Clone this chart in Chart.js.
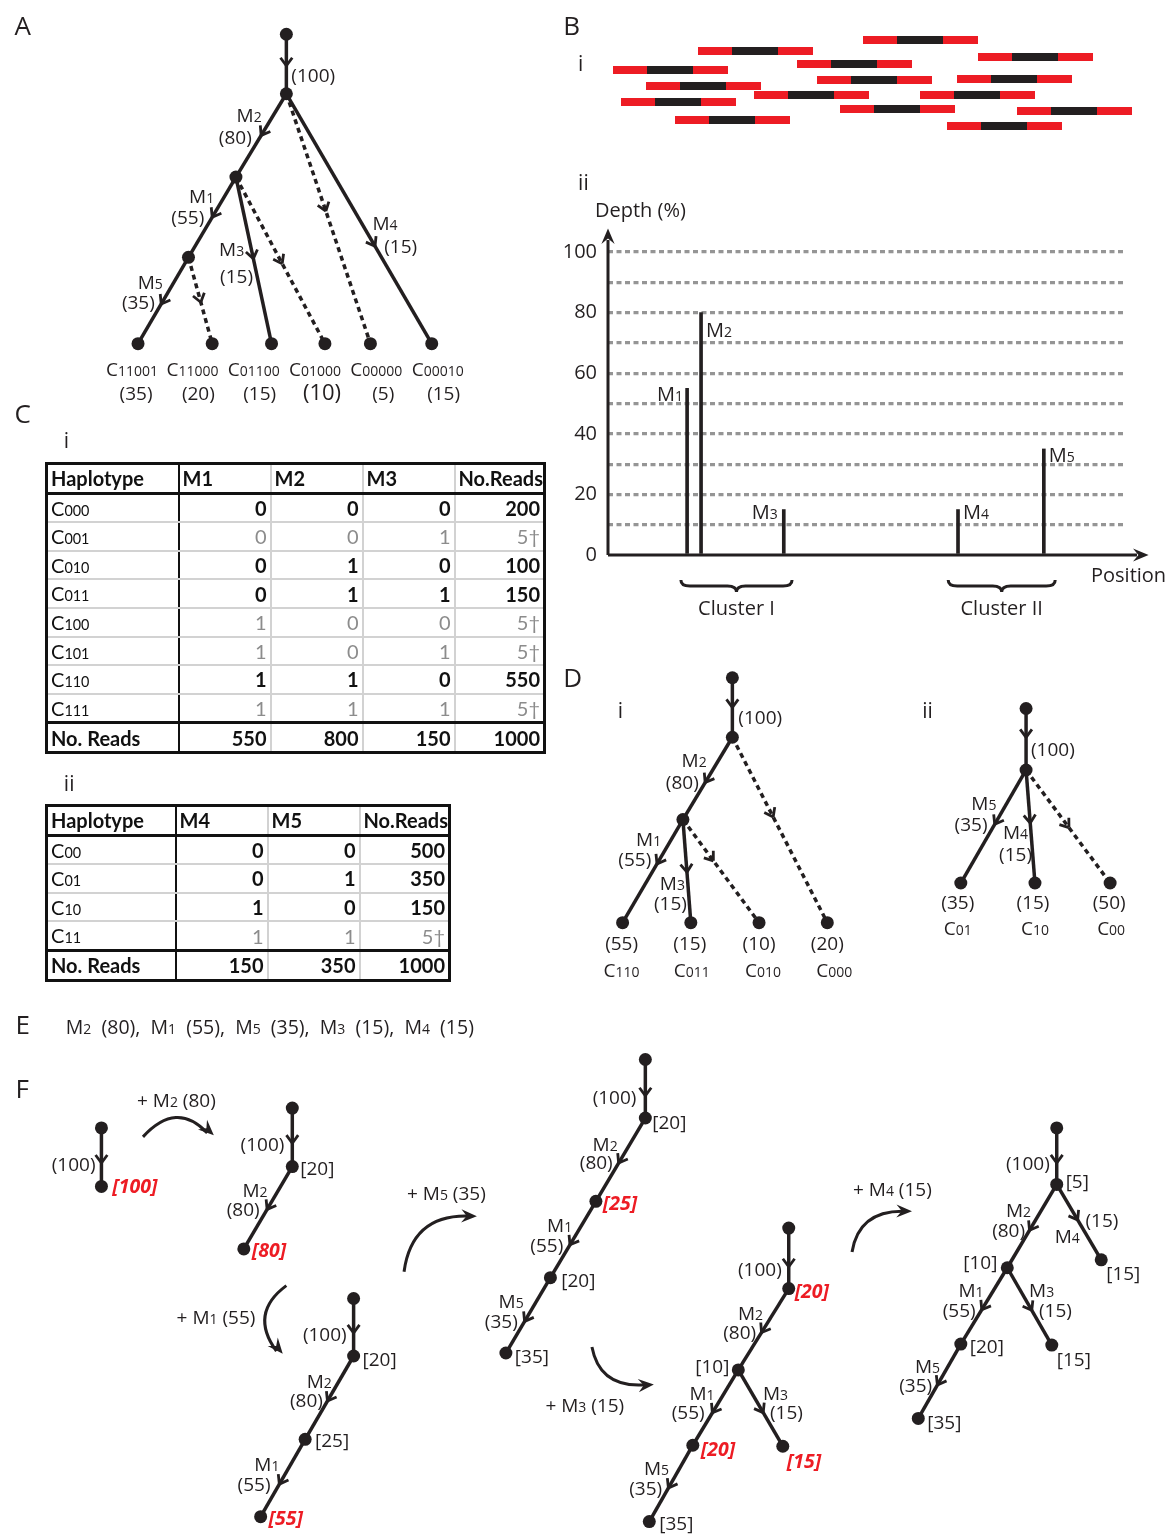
<!DOCTYPE html>
<html>
<head>
<meta charset="utf-8">
<script src="https://cdn.jsdelivr.net/npm/chart.js@4.4.1/dist/chart.umd.min.js"></script>
<style>
  html, body { margin: 0; padding: 0; background: #fff; }
  #page { position: relative; width: 1173px; height: 1538px; overflow: hidden; }
  #page canvas { position: absolute; }
  .tbl { position: absolute; border-collapse: collapse; table-layout: fixed;
         font-family: Lato, "Liberation Sans", sans-serif; font-size: 20px; color: #111;
         border: 3px solid #111; }
  .tbl td { border: 2px solid #d2d2d2; padding: 0 3px 0 3px; height: 26.6px; line-height: 1;
            white-space: nowrap; overflow: hidden; text-align: right; font-weight: bold; }
  .tbl td:first-child { text-align: left; font-weight: normal; border-right: 2px solid #111; }
  .tbl td:last-child { border-left: 2px solid #111; }
  .tbl tr.head td { font-weight: bold; text-align: left; border-bottom: 3px solid #111; }
  .tbl tr.total td { font-weight: bold; border-top: 3px solid #111; }
  .tbl tr.rare td { color: #8c8c8c; font-weight: normal; }
  .tbl tr.rare td:first-child { color: #111; }
  .tbl .s { font-size: 72%; }
</style>
</head>
<body>
<div id="page">
  <canvas id="trees" width="1173" height="1538" style="left:0;top:0"></canvas>
  <canvas id="reads" width="530" height="105" style="left:608px;top:30px"></canvas>
  <canvas id="depth" width="613" height="440" style="left:560px;top:190px"></canvas>
  <table id="tab1" class="tbl" style="left:45px;top:462px;width:498px"></table>
  <table id="tab2" class="tbl" style="left:45px;top:804px;width:403px"></table>
</div>
<script>
// ---------- data ----------
// B i: short reads (start position, lane)
const readStart = [250, 85, 365, 184, 0, 204, 344, 33, 141, 307, 8, 227, 404, 62, 334];
const readLane  = [0, 11, 17, 24, 30, 40, 39, 46, 55, 55, 62, 69, 71, 80, 86];
const readLength = 115;
const readCore = [34, 80];

// B ii: mutations, position and depth (%)
const mutations   = ['M1', 'M2', 'M3', 'M4', 'M5'];
const mutPosition = [153, 180, 340, 677, 843];
const mutDepth    = [55, 80, 15, 15, 35];
const depthGrid   = [0, 10, 20, 30, 40, 50, 60, 70, 80, 90, 100];
const clusterNames = ['Cluster I', 'Cluster II'];
const clusterFrom  = [141, 658];
const clusterTo    = [356, 865];

// C i / C ii tables
const headI   = ['Haplotype', 'M1', 'M2', 'M3', 'No.Reads'];
const hapI    = ['000', '001', '010', '011', '100', '101', '110', '111'];
const readsI  = [200, 5, 100, 150, 5, 5, 550, 5];
const rareI   = [false, true, false, false, true, true, false, true];
const totalsI = [550, 800, 150, 1000];
const headII   = ['Haplotype', 'M4', 'M5', 'No.Reads'];
const hapII    = ['00', '01', '10', '11'];
const readsII  = [500, 350, 150, 5];
const rareII   = [false, false, false, true];
const totalsII = [150, 350, 1000];

// trees: nodes, edges [from, to, dashed, arrow position], labels [text, x, y, align, style]
const treeA = {
  nodes: { r: [283, 28], a: [283, 88], b: [232, 172], c: [184, 253],
           l1: [133, 340], l2: [208, 340], l3: [268, 340], l4: [322, 340], l5: [368, 340], l6: [430, 340] },
  edges: [['r','a',0,.53], ['a','b',0,.5], ['a','l5',1,.47], ['a','l6',0,.61], ['b','c',0,.5],
          ['b','l3',0,.49], ['b','l4',1,.52], ['c','l1',0,.54], ['c','l2',1,.52]],
  labels: [['(100)',288,69,'l'], ['M_2',258,110,'r'], ['(80)',248,132,'r'], ['M_1',210,191,'r'],
           ['(55)',200,212,'r'], ['M_4',370,219,'l'], ['(15)',382,242,'l'], ['M_3',215,245,'l'],
           ['(15)',216,272,'l'], ['M_5',158,278,'r'], ['(35)',150,298,'r'],
           ['C_11001',127,366,'c'], ['(35)',131,390,'c'], ['C_11000',188,366,'c'], ['(20)',194,390,'c'],
           ['C_01100',250,366,'c'], ['(15)',256,390,'c'], ['C_01000',312,366,'c'], ['(10)',319,389,'c',22],
           ['C_00000',374,366,'c'], ['(5)',381,390,'c'], ['C_00010',436,366,'c'], ['(15)',442,390,'c']]
};
const treeDi = {
  nodes: { r: [734, 677], a: [734, 737], b: [684, 820], l1: [623, 924], l2: [692, 924], l3: [761, 924], l4: [830, 924] },
  edges: [['r','a',0,.5], ['a','b',0,.55], ['a','l4',1,.43], ['b','l1',0,.43], ['b','l2',0,.51], ['b','l3',1,.4]],
  labels: [['(100)',740,717,'l'], ['M_2',708,760,'r'], ['(80)',700,782,'r'], ['M_1',662,840,'r'],
           ['(55)',652,860,'r'], ['M_3',686,884,'r'], ['(15)',688,904,'r'],
           ['(55)',622,945,'c'], ['C_110',622,972,'c'], ['(15)',691,945,'c'], ['C_011',693,972,'c'],
           ['(10)',761,945,'c'], ['C_010',765,972,'c'], ['(20)',830,945,'c'], ['C_000',837,972,'c']]
};
const treeDii = {
  nodes: { r: [1031, 708], a: [1031, 770], l1: [965, 884], l2: [1040, 884], l3: [1116, 884] },
  edges: [['r','a',0,.47], ['a','l1',0,.48], ['a','l2',0,.47], ['a','l3',1,.51]],
  labels: [['(100)',1036,749,'l'], ['M_5',1001,803,'r'], ['(35)',992,825,'r'], ['M_4',1033,833,'r'],
           ['(15)',1037,855,'r'], ['(35)',962,903,'c'], ['C_01',962,930,'c'], ['(15)',1038,903,'c'],
           ['C_10',1040,930,'c'], ['(50)',1115,903,'c'], ['C_00',1117,930,'c']]
};
const treeF1 = {
  nodes: { r: [96, 1131], a: [96, 1190] },
  edges: [['r','a',0,.6]],
  labels: [['(100)',90,1168,'r'], ['[100]',107,1190,'l','red']]
};
const treeF2 = {
  nodes: { r: [289, 1111], a: [289, 1170], b: [240, 1253] },
  edges: [['r','a',0,.6], ['a','b',0,.52]],
  labels: [['(100)',281,1147,'r'], ['[20]',297,1172,'l'], ['M_2',264,1194,'r'], ['(80)',256,1213,'r'],
           ['[80]',248,1254,'l','red']]
};
const treeF3 = {
  nodes: { r: [351, 1303], a: [351, 1361], b: [302, 1445], c: [257, 1523] },
  edges: [['r','a',0,.6], ['a','b',0,.54], ['b','c',0,.58]],
  labels: [['(100)',344,1339,'r'], ['[20]',360,1364,'l'], ['M_2',329,1386,'r'], ['(80)',320,1406,'r'],
           ['[25]',312,1446,'l'], ['M_1',276,1470,'r'], ['(55)',267,1490,'r'], ['[55]',265,1524,'l','red']]
};
const treeF4 = {
  nodes: { r: [646, 1062], a: [646, 1121], b: [596, 1205], c: [550, 1282], d: [505, 1358] },
  edges: [['r','a',0,.62], ['a','b',0,.54], ['b','c',0,.57], ['c','d',0,.58]],
  labels: [['(100)',637,1100,'r'], ['[20]',653,1125,'l'], ['M_2',618,1147,'r'], ['(80)',613,1166,'r'],
           ['[25]',603,1207,'l','red'], ['M_1',572,1229,'r'], ['(55)',563,1249,'r'], ['[20]',561,1285,'l'],
           ['M_5',523,1306,'r'], ['(35)',517,1326,'r'], ['[35]',514,1361,'l']]
};
const treeF5 = {
  nodes: { r: [791, 1232], a: [791, 1293], b: [740, 1375], c: [694, 1451], d: [650, 1528], e: [785, 1452] },
  edges: [['r','a',0,.64], ['a','b',0,.54], ['b','c',0,.57], ['c','d',0,.56], ['b','e',0,.56]],
  labels: [['(100)',784,1273,'r'], ['[20]',797,1295,'l','red'], ['M_2',765,1318,'r'], ['(80)',758,1337,'r'],
           ['[10]',731,1371,'r'], ['M_1',716,1398,'r'], ['(55)',706,1418,'r'], ['M_3',765,1398,'l'],
           ['(15)',772,1418,'l'], ['[20]',702,1455,'l','red'], ['[15]',789,1467,'l','red'],
           ['M_5',670,1474,'r'], ['(35)',663,1494,'r'], ['[35]',660,1530,'l']]
};
const treeF6 = {
  nodes: { r: [1062, 1131], a: [1062, 1188], b: [1012, 1272], c: [965, 1349], d: [922, 1424],
           e: [1057, 1350], f: [1107, 1264] },
  edges: [['r','a',0,.62], ['a','b',0,.55], ['a','f',0,.47], ['b','c',0,.55], ['b','e',0,.55], ['c','d',0,.55]],
  labels: [['(100)',1055,1167,'r'], ['[5]',1071,1185,'l'], ['M_2',1036,1214,'r'], ['(80)',1030,1234,'r'],
           ['(15)',1091,1224,'l'], ['M_4',1060,1240,'l'], ['[15]',1112,1277,'l'], ['[10]',1002,1266,'r'],
           ['M_1',988,1295,'r'], ['(55)',980,1315,'r'], ['M_3',1034,1295,'l'], ['(15)',1044,1315,'l'],
           ['[20]',974,1351,'l'], ['[15]',1062,1364,'l'], ['M_5',944,1371,'r'], ['(35)',936,1390,'r'],
           ['[35]',931,1428,'l']]
};
const trees = [treeA, treeDi, treeDii, treeF1, treeF2, treeF3, treeF4, treeF5, treeF6];

// F: steps between trees [label, label x, label y, curve x0,y0, ctrl x,y, x1,y1]
const steps = [
  ['+ M_2 (80)', 132, 1103, 138, 1140, 172, 1103, 207, 1136],
  ['+ M_1 (55)', 172, 1322, 283, 1290, 245, 1318, 277, 1356],
  ['+ M_5 (35)', 405, 1197, 402, 1276, 410, 1218, 472, 1220],
  ['+ M_3 (15)', 545, 1411, 592, 1352, 600, 1394, 651, 1390],
  ['+ M_4 (15)', 856, 1193, 855, 1256, 862, 1214, 912, 1215]
];

const panelLetters = [['A',8,19], ['B',563,19], ['C',8,411], ['D',563,677], ['E',9,1027], ['F',9,1091]];
const subLetters = [['i',578,57], ['ii',578,177], ['i',58,438], ['ii',58,784], ['i',618,710], ['ii',926,710]];

// ---------- drawing helpers ----------
const INK = '#231f20';
const RED = '#ed1c24';
const FIG_FONT = '"Open Sans", "Liberation Sans", sans-serif';

function richText(ctx, str, x, y, align, size, style, color) {
  const parts = [];
  str.split(/(_\d+)/).forEach(p => {
    if (!p) return;
    if (p[0] === '_') parts.push({ t: p.slice(1), s: true });
    else parts.push({ t: p, s: false });
  });
  const fN = `${style} ${size}px ${FIG_FONT}`;
  const fS = `${style} ${Math.round(size * 0.72)}px ${FIG_FONT}`;
  let w = 0;
  parts.forEach(p => { ctx.font = p.s ? fS : fN; p.w = ctx.measureText(p.t).width; w += p.w; });
  let cx = align === 'r' ? x - w : align === 'c' ? x - w / 2 : x;
  ctx.textAlign = 'left';
  ctx.textBaseline = 'alphabetic';
  ctx.fillStyle = color;
  const base = y + size * 0.36;
  parts.forEach(p => { ctx.font = p.s ? fS : fN; ctx.fillText(p.t, cx, base); cx += p.w; });
}

function chevron(ctx, x, y, dx, dy) {
  const len = Math.hypot(dx, dy), ux = dx / len, uy = dy / len;
  const L = 10, a = Math.PI / 5;
  ctx.beginPath();
  [-1, 1].forEach(s => {
    const c = Math.cos(a), sn = Math.sin(a) * s;
    const bx = -(ux * c - uy * sn), by = -(ux * sn + uy * c);
    ctx.moveTo(x + bx * L, y + by * L);
    ctx.lineTo(x, y);
  });
  ctx.stroke();
}

function arrowHead(ctx, x, y, dx, dy, size) {
  const len = Math.hypot(dx, dy), ux = dx / len, uy = dy / len;
  ctx.beginPath();
  ctx.moveTo(x + ux * size * 0.3, y + uy * size * 0.3);
  ctx.lineTo(x - ux * size - uy * size * 0.55, y - uy * size + ux * size * 0.55);
  ctx.lineTo(x - ux * size * 0.55, y - uy * size * 0.55);
  ctx.lineTo(x - ux * size + uy * size * 0.55, y - uy * size - ux * size * 0.55);
  ctx.closePath();
  ctx.fill();
}

function brace(ctx, x1, x2, y) {
  const m = (x1 + x2) / 2, h = 12;
  ctx.beginPath();
  ctx.moveTo(x1, y);
  ctx.quadraticCurveTo(x1, y + h / 2, x1 + 9, y + h / 2);
  ctx.lineTo(m - 9, y + h / 2);
  ctx.quadraticCurveTo(m, y + h / 2, m, y + h);
  ctx.quadraticCurveTo(m, y + h / 2, m + 9, y + h / 2);
  ctx.lineTo(x2 - 9, y + h / 2);
  ctx.quadraticCurveTo(x2, y + h / 2, x2, y);
  ctx.stroke();
}

const baseOpts = {
  responsive: false, animation: false, events: [],
  plugins: { legend: { display: false }, tooltip: { enabled: false } }
};

// ---------- trees, panel letters, E text, F steps ----------
const treeSets = [];
const nodePts = [];
trees.forEach(t => {
  Object.values(t.nodes).forEach(n => nodePts.push({ x: n[0], y: n[1] }));
  t.edges.forEach(e => {
    const a = t.nodes[e[0]], b = t.nodes[e[1]];
    treeSets.push({
      data: [{ x: a[0], y: a[1] }, { x: b[0], y: b[1] }],
      showLine: true, borderColor: INK, borderWidth: 3.5, borderCapStyle: 'butt',
      borderDash: e[2] ? [5, 4] : [], pointRadius: 0, order: 1
    });
  });
});
treeSets.unshift({ data: nodePts, pointRadius: 6.5, pointBackgroundColor: INK, pointBorderWidth: 0, order: 0 });

const treeDecor = {
  id: 'treeDecor',
  afterDatasetsDraw(chart) {
    const ctx = chart.ctx, sx = chart.scales.x, sy = chart.scales.y;
    const X = v => sx.getPixelForValue(v), Y = v => sy.getPixelForValue(v);
    ctx.save();
    ctx.strokeStyle = INK; ctx.lineWidth = 2.8; ctx.lineCap = 'butt'; ctx.lineJoin = 'miter';
    trees.forEach(t => {
      t.edges.forEach(e => {
        const a = t.nodes[e[0]], b = t.nodes[e[1]];
        const px = a[0] + (b[0] - a[0]) * e[3], py = a[1] + (b[1] - a[1]) * e[3];
        chevron(ctx, X(px), Y(py), X(b[0]) - X(a[0]), Y(b[1]) - Y(a[1]));
      });
      t.labels.forEach(l => {
        const red = l[4] === 'red';
        const size = typeof l[4] === 'number' ? l[4] : (red ? 19.5 : 19);
        richText(ctx, l[0], X(l[1]), Y(l[2]), l[3], size, red ? 'italic bold' : 'normal', red ? RED : INK);
      });
    });
    // F steps: curved arrows with labels
    ctx.lineWidth = 3; ctx.fillStyle = INK;
    steps.forEach(s => {
      richText(ctx, s[0], X(s[1]), Y(s[2]), 'l', 19, 'normal', INK);
      ctx.beginPath();
      ctx.moveTo(X(s[3]), Y(s[4]));
      ctx.quadraticCurveTo(X(s[5]), Y(s[6]), X(s[7]) - 4, Y(s[8]));
      ctx.stroke();
      ctx.fillStyle = INK;
      arrowHead(ctx, X(s[7]), Y(s[8]), X(s[7]) - X(s[5]), Y(s[8]) - Y(s[6]), 12);
    });
    // E: mutations ordered by depth
    const order = mutations.map((m, i) => i).sort((a, b) => mutDepth[b] - mutDepth[a]);
    const eText = order.map(i => 'M_' + mutations[i].slice(1) + '  (' + mutDepth[i] + ')').join(',  ');
    richText(ctx, eText, X(60), Y(1029), 'l', 19.5, 'normal', INK);
    panelLetters.forEach(p => richText(ctx, p[0], X(p[1]), Y(p[2]), 'l', 26, 'normal', INK));
    subLetters.forEach(p => richText(ctx, p[0], X(p[1]), Y(p[2]), 'l', 21, 'normal', INK));
    ctx.restore();
  }
};

new Chart(document.getElementById('trees'), {
  type: 'scatter',
  data: { datasets: treeSets },
  options: Object.assign({}, baseOpts, {
    layout: { padding: 0 },
    scales: {
      x: { type: 'linear', min: 0, max: 1173, display: false },
      y: { type: 'linear', min: 0, max: 1538, reverse: true, display: false }
    }
  }),
  plugins: [treeDecor]
});

// ---------- B i: reads ----------
function readSegments(from, to) {
  const pts = [];
  readStart.forEach((s, i) => {
    pts.push({ x: s + from, y: readLane[i] }, { x: s + to, y: readLane[i] }, { x: s + to, y: null });
  });
  return pts;
}
new Chart(document.getElementById('reads'), {
  type: 'scatter',
  data: {
    datasets: [
      { data: readSegments(readCore[0], readCore[1]), showLine: true, borderColor: INK, borderWidth: 8,
        borderCapStyle: 'butt', pointRadius: 0, spanGaps: false, order: 0 },
      { data: readSegments(0, readLength), showLine: true, borderColor: RED, borderWidth: 8,
        borderCapStyle: 'butt', pointRadius: 0, spanGaps: false, order: 1 }
    ]
  },
  options: Object.assign({}, baseOpts, {
    layout: { padding: 0 },
    scales: {
      x: { type: 'linear', min: -5, max: 525, display: false },
      y: { type: 'linear', min: -10, max: 95, reverse: true, display: false }
    }
  })
});

// ---------- B ii: depth per position ----------
const depthDecor = {
  id: 'depthDecor',
  afterDraw(chart) {
    const ctx = chart.ctx, sx = chart.scales.x, sy = chart.scales.y, ca = chart.chartArea;
    ctx.save();
    ctx.strokeStyle = INK; ctx.fillStyle = INK; ctx.lineWidth = 3;
    const x0 = ca.left, y0 = sy.getPixelForValue(0);
    ctx.beginPath();
    ctx.moveTo(x0, y0); ctx.lineTo(x0, ca.top - 12);
    ctx.moveTo(x0, y0); ctx.lineTo(ca.right + 12, y0);
    ctx.stroke();
    arrowHead(ctx, x0, ca.top - 20, 0, -1, 12);
    arrowHead(ctx, ca.right + 20, y0, 1, 0, 12);
    const place = [['r', -4, 5], ['l', 5, 17], ['r', -6, 2], ['l', 5, 2], ['l', 5, 6]];
    mutations.forEach((m, i) => {
      const px = sx.getPixelForValue(mutPosition[i]), py = sy.getPixelForValue(mutDepth[i]);
      richText(ctx, 'M_' + m.slice(1), px + place[i][1], py + place[i][2], place[i][0], 20, 'normal', INK);
    });
    ctx.lineWidth = 3;
    clusterNames.forEach((c, i) => {
      const a = sx.getPixelForValue(clusterFrom[i]), b = sx.getPixelForValue(clusterTo[i]);
      brace(ctx, a, b, y0 + 25);
      richText(ctx, c, (a + b) / 2, y0 + 53, 'c', 20, 'normal', INK);
    });
    richText(ctx, 'Depth (%)', 35, 20, 'l', 20, 'normal', INK);
    richText(ctx, 'Position', ca.right - 34, y0 + 20, 'l', 20, 'normal', INK);
    ctx.restore();
  }
};

new Chart(document.getElementById('depth'), {
  type: 'bar',
  data: {
    datasets: [{
      data: mutPosition.map((p, i) => ({ x: p, y: mutDepth[i] })),
      backgroundColor: INK, barThickness: 3
    }]
  },
  options: Object.assign({}, baseOpts, {
    layout: { padding: { top: 62, bottom: 75, right: 48, left: 0 } },
    scales: {
      x: { type: 'linear', min: 0, max: 1000, offset: false, display: false },
      y: {
        type: 'linear', min: 0, max: 100,
        afterBuildTicks: s => { s.ticks = depthGrid.map(v => ({ value: v })); },
        afterFit: s => { s.width = 48; },
        border: { display: false, dash: [5, 3.5] },
        grid: { drawTicks: false, lineWidth: 3.2, color: c => c.tick && c.tick.value === 0 ? 'rgba(0,0,0,0)' : '#959595' },
        ticks: {
          padding: 11, color: INK, font: { family: FIG_FONT, size: 20 },
          callback: v => (v % 20 === 0 ? String(v) : '')
        }
      }
    }
  }),
  plugins: [depthDecor]
});

// ---------- C tables ----------
function hapCell(code) { return 'C<span class="s">' + code + '</span>'; }
function buildTable(id, head, haps, reads, rare, totals, widths) {
  let html = '<colgroup>' + widths.map(w => '<col style="width:' + w + 'px">').join('') + '</colgroup>';
  html += '<tr class="head">' + head.map(h => '<td>' + h + '</td>').join('') + '</tr>';
  haps.forEach((h, i) => {
    const cells = h.split('').map(b => '<td>' + b + '</td>').join('');
    const r = rare[i] ? reads[i] + '&dagger;' : reads[i];
    html += '<tr class="' + (rare[i] ? 'rare' : '') + '"><td>' + hapCell(h) + '</td>' + cells + '<td>' + r + '</td></tr>';
  });
  html += '<tr class="total"><td>No. Reads</td>' + totals.map(v => '<td>' + v + '</td>').join('') + '</tr>';
  document.getElementById(id).innerHTML = html;
}
buildTable('tab1', headI, hapI, readsI, rareI, totalsI, [132, 92, 92, 92, 90]);
buildTable('tab2', headII, hapII, readsII, rareII, totalsII, [129, 92, 92, 90]);
</script>
</body>
</html>
